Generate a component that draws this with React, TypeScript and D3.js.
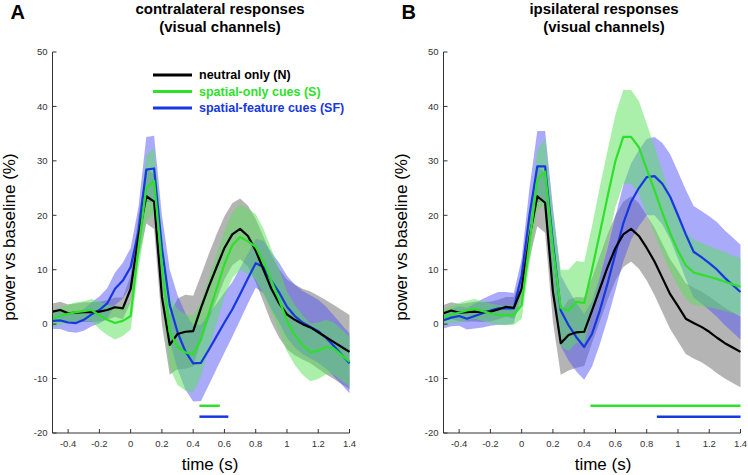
import React from 'react';
import * as d3 from 'd3';

// time axis (s), shared by all series
const times = [
  -0.5, -0.45, -0.4, -0.35, -0.3, -0.25, -0.2, -0.15, -0.1, -0.05,
  0, 0.05, 0.1, 0.15, 0.2, 0.25, 0.3, 0.35, 0.4, 0.45,
  0.5, 0.55, 0.6, 0.65, 0.7, 0.75, 0.8, 0.85, 0.9, 0.95,
  1.0, 1.05, 1.1, 1.15, 1.2, 1.25, 1.3, 1.35, 1.4,
];

// A: contralateral
const contraN = [2.3, 2.6, 2.0, 2.1, 2.2, 2.2, 2.3, 2.6, 3.1, 2.9, 6.5, 16, 23.5, 22.5, 5, -3.8, -1.8, -1.4, -1.3, 3, 6.9, 10.5, 14, 16.5, 17.5, 16.2, 13.5, 10, 6.5, 3.8, 1.8, 0.8, 0, -0.6, -1.5, -2.4, -3.3, -4.2, -5.1];
const contraNErr = [1.5, 1.5, 1.6, 1.7, 1.8, 1.8, 1.8, 1.8, 1.8, 2.0, 2.5, 4, 5, 5, 5, 5.5, 6.5, 6.8, 6.5, 6, 6, 6, 5.8, 5.7, 5.6, 5.6, 5.8, 6, 6.2, 6.3, 6.4, 6.5, 6.5, 6.6, 6.7, 6.8, 6.8, 6.8, 6.8];
const contraS = [1.0, 1.5, 1.9, 2.2, 2.4, 2.6, 1.6, 0.8, 0.2, 0.6, 1.5, 14, 25, 26.3, 11, -1.5, -4.2, -5.2, -5.5, -2.8, 2, 6.5, 11, 14.5, 16, 15.2, 14.2, 11.5, 8, 4.5, 0.5, -2, -3.8, -5.2, -4.9, -4.2, -4.5, -5.7, -6.9];
const contraSErr = [1.5, 1.6, 1.7, 1.8, 1.8, 2, 2.5, 2.8, 3, 2.8, 2.5, 4, 6, 6, 6, 6.5, 7, 7, 7, 6.8, 6.5, 6.3, 6, 6, 6, 6, 6, 6, 5.8, 5.6, 5.5, 5.5, 5.5, 5.3, 5.2, 5, 4.8, 4.7, 4.6];
const contraSF = [0.6, 0.7, 0.3, 0.2, 0.8, 1.8, 2.6, 3.8, 6.5, 8, 10.5, 17, 28.4, 28.6, 14, 3.5, -1.5, -5, -7.2, -7.1, -4.7, -2.2, 0.3, 2.7, 5.5, 8.4, 11.2, 10.5, 8, 5.8, 3.2, 1.5, 0.3, -0.5, -1.3, -2.5, -4, -5.6, -7.2];
const contraSFErr = [1.5, 1.6, 1.7, 1.8, 2, 2.2, 2.5, 2.8, 3, 3.3, 3.5, 4.5, 6, 6, 6, 6.5, 6.8, 7, 7, 7, 6.5, 6, 5.5, 5, 4.8, 4.6, 4.5, 4.8, 5.2, 5.5, 5.7, 5.8, 5.8, 5.8, 5.8, 5.7, 5.6, 5.5, 5.5];

// B: ipsilateral
const ipsiN = [2.0, 2.5, 2.1, 2.2, 2.3, 2.2, 2.3, 2.7, 3.2, 3.0, 6.5, 16, 23.5, 22.3, 6, -3.5, -2, -1.5, -1.4, 2.5, 6.5, 10.5, 14, 16.5, 17.5, 16.2, 14, 11.5, 8.5, 5.5, 3.3, 1.0, 0.2, -0.5, -1.4, -2.5, -3.5, -4.3, -5.1];
const ipsiNErr = [1.5, 1.5, 1.6, 1.7, 1.8, 1.8, 1.8, 1.8, 1.8, 2.0, 2.5, 4, 5.5, 5.5, 5.5, 5.8, 6.5, 6.5, 6.3, 6, 6, 6, 6, 6, 6, 6, 6, 6.2, 6.3, 6.4, 6.5, 6.5, 6.5, 6.5, 6.5, 6.5, 6.5, 6.5, 6.5];
const ipsiS = [1.2, 1.8, 2.1, 2.5, 2.8, 2.4, 2.0, 1.7, 1.6, 1.7, 3.5, 15, 26.5, 28, 14, 3, 2.5, 4.1, 3.9, 10, 16.7, 23.5, 30, 34.4, 34.4, 32.5, 28.5, 24.6, 20.5, 16.7, 13.5, 10.8, 9.5, 9.1, 8.7, 8.3, 7.8, 7.3, 6.9];
const ipsiSErr = [1.5, 1.6, 1.8, 1.8, 1.8, 1.8, 1.8, 1.8, 1.8, 1.8, 2.5, 4, 5.5, 6, 6.5, 7, 7.5, 7.5, 7.5, 8, 8.5, 8.5, 8.5, 8.6, 8.6, 8.5, 8.3, 8, 7.5, 7, 6.5, 6.2, 6, 5.8, 5.6, 5.5, 5.4, 5.3, 5.2];
const ipsiSF = [0.7, 1.2, 1.5, 1.0, 1.5, 2.0, 2.5, 2.9, 2.9, 2.9, 9, 20, 29, 29, 15, 2.5, -0.2, -2.4, -4.2, -1.8, 2.5, 7.5, 13, 18.5, 22.5, 25, 27, 27.2, 25.8, 23.4, 20, 16.5, 13.3, 12.3, 11.2, 10, 8.5, 7.2, 5.9];
const ipsiSFErr = [1.5, 1.6, 1.8, 2, 2.3, 2.6, 2.8, 3, 3, 2.8, 3, 5, 6.5, 6.5, 6.5, 6.5, 6.5, 6.3, 6, 6, 6.2, 6.5, 6.8, 7, 7, 7, 7, 7.2, 7.5, 7.8, 8, 8.2, 8.4, 8.5, 8.6, 8.7, 8.7, 8.7, 8.7];

// significance bars: [start, end] in s
const contraSigS = [0.44, 0.57];
const contraSigSF = [0.44, 0.625];
const ipsiSigS = [0.44, 1.4];
const ipsiSigSF = [0.865, 1.4];
const sigLevelS = -15;
const sigLevelSF = -17;

const xTicks = [-0.4, -0.2, 0, 0.2, 0.4, 0.6, 0.8, 1, 1.2, 1.4];
const yTicks = [-20, -10, 0, 10, 20, 30, 40, 50];

const legendLabels = ['neutral only (N)', 'spatial-only cues (S)', 'spatial-feature cues (SF)'];

const C_BLACK = '#000000';
const C_GREEN = '#2ee02a';
const C_BLUE = '#1638e0';
// band base colours, drawn at 50% alpha (gray, then blue, then green on top)
const BAND_GRAY = '#6a6a6a';
const BAND_GREEN = '#55e155';
const BAND_BLUE = '#5555f5';

const FONT = '"Liberation Sans", Arial, Helvetica, sans-serif';

interface Series {
  mean: number[];
  err: number[];
  line: string;
  band: string;
}

interface PanelProps {
  x0: number;
  letter: string;
  title: string[];
  titleX: number;
  series: Series[];
  sigS: number[];
  sigSF: number[];
  ylabelX: number;
  xlabelX: number;
  legend?: boolean;
}

const Panel: React.FC<PanelProps> = ({ x0, letter, title, titleX, series, sigS, sigSF, ylabelX, xlabelX, legend }) => {
  const x = d3.scaleLinear().domain([-0.5, 1.4]).range([x0, x0 + 297]);
  const y = d3.scaleLinear().domain([-20, 50]).range([433, 52]);

  const area = (s: Series) =>
    d3.area<number>()
      .x((_, i) => x(times[i]))
      .y0((d, i) => y(d - s.err[i]))
      .y1((d, i) => y(d + s.err[i]))(s.mean) || '';
  const line = (s: Series) =>
    d3.line<number>()
      .x((_, i) => x(times[i]))
      .y(d => y(d))(s.mean) || '';

  const bandOrder = [0, 2, 1];
  const lineOrder = [2, 0, 1];

  return (
    <g fontFamily={FONT}>
      <text x={x0 - 42} y={19} fontSize={20} fontWeight="bold">{letter}</text>
      {title.map((t, i) => (
        <text key={i} x={titleX} y={14 + i * 17.5} fontSize={15} fontWeight="bold" textAnchor="middle">{t}</text>
      ))}

      {bandOrder.map(i => (
        <path key={i} d={area(series[i])} fill={series[i].band} fillOpacity={0.5} />
      ))}
      {lineOrder.map(i => (
        <path key={i} d={line(series[i])} fill="none" stroke={series[i].line} strokeWidth={2.2} strokeLinejoin="round" />
      ))}

      <line x1={x(sigS[0])} x2={x(sigS[1])} y1={y(sigLevelS)} y2={y(sigLevelS)} stroke={C_GREEN} strokeWidth={2.5} />
      <line x1={x(sigSF[0])} x2={x(sigSF[1])} y1={y(sigLevelSF)} y2={y(sigLevelSF)} stroke={C_BLUE} strokeWidth={2.5} />

      {/* axes */}
      <line x1={x0} x2={x0} y1={y(50)} y2={y(-20)} stroke="#333" strokeWidth={1} />
      <line x1={x0} x2={x(1.4)} y1={y(-20)} y2={y(-20)} stroke="#333" strokeWidth={1} />
      {yTicks.map(v => (
        <g key={v}>
          <line x1={x0} x2={x0 + 4} y1={y(v)} y2={y(v)} stroke="#333" />
          <text x={x0 - 5} y={y(v)} dy="0.35em" fontSize={9.5} textAnchor="end" fill="#333">{String(v)}</text>
        </g>
      ))}
      {xTicks.map(v => (
        <g key={v}>
          <line x1={x(v)} x2={x(v)} y1={y(-20)} y2={y(-20) - 4} stroke="#333" />
          <text x={x(v)} y={447} fontSize={9.5} textAnchor="middle" fill="#333">{String(v)}</text>
        </g>
      ))}

      <text transform={`translate(${ylabelX},237) rotate(-90)`} fontSize={17} textAnchor="middle">power vs baseline (%)</text>
      <text x={xlabelX} y={470} fontSize={17} textAnchor="middle">time (s)</text>

      {legend && legendLabels.map((lab, i) => {
        const col = [C_BLACK, C_GREEN, C_BLUE][i];
        const ly = 75 + i * 16.5;
        return (
          <g key={lab}>
            <line x1={153} x2={192} y1={ly} y2={ly} stroke={col} strokeWidth={3} />
            <text x={199} y={ly} dy="0.35em" fontSize={12.5} fontWeight="bold" fill={col}>{lab}</text>
          </g>
        );
      })}
    </g>
  );
};

const App: React.FC = () => {
  const contra: Series[] = [
    { mean: contraN, err: contraNErr, line: C_BLACK, band: BAND_GRAY },
    { mean: contraS, err: contraSErr, line: C_GREEN, band: BAND_GREEN },
    { mean: contraSF, err: contraSFErr, line: C_BLUE, band: BAND_BLUE },
  ];
  const ipsi: Series[] = [
    { mean: ipsiN, err: ipsiNErr, line: C_BLACK, band: BAND_GRAY },
    { mean: ipsiS, err: ipsiSErr, line: C_GREEN, band: BAND_GREEN },
    { mean: ipsiSF, err: ipsiSFErr, line: C_BLUE, band: BAND_BLUE },
  ];
  return (
    <svg width={748} height={475} viewBox="0 0 748 475"
      style={{ position: 'absolute', left: 0, top: 0, background: '#fff' }}>
      <rect width={748} height={475} fill="#fff" />
      <Panel x0={52.5} letter="A" title={['contralateral responses', '(visual channels)']} titleX={220}
        series={contra} sigS={contraSigS} sigSF={contraSigSF} ylabelX={15} xlabelX={210} legend />
      <Panel x0={443.5} letter="B" title={['ipsilateral responses', '(visual channels)']} titleX={604}
        series={ipsi} sigS={ipsiSigS} sigSF={ipsiSigSF} ylabelX={407} xlabelX={603} />
    </svg>
  );
};

export default App;
